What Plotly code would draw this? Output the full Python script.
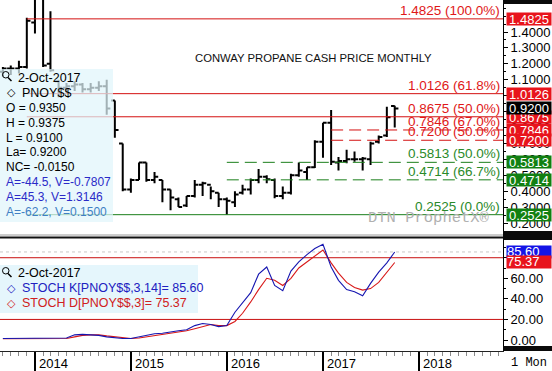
import plotly.graph_objects as go
import pandas as pd

# ---------------- data ----------------
months = pd.date_range("2013-09-01", periods=50, freq="MS")

opens = [1.15, 1.17, 1.17, 1.18,
         1.46, 1.70, 1.20, 1.09, 1.05, 1.06, 1.07, 1.04, 1.05, 1.06, 0.97, 0.70,
         0.41, 0.47, 0.58, 0.47, 0.47, 0.41, 0.35, 0.31, 0.37, 0.44, 0.44, 0.39,
         0.35, 0.33, 0.39, 0.41, 0.47, 0.49, 0.47, 0.37, 0.39, 0.50, 0.52, 0.55,
         0.71, 0.83, 0.58, 0.59, 0.60, 0.60, 0.60, 0.71, 0.75, 0.935]
highs = [1.18, 1.19, 1.22, 1.49,
         1.80, 1.80, 1.53, 1.10, 1.08, 1.09, 1.08, 1.08, 1.09, 1.10, 0.97, 0.70,
         0.48, 0.58, 0.58, 0.52, 0.47, 0.41, 0.36, 0.37, 0.47, 0.46, 0.43, 0.39,
         0.36, 0.40, 0.44, 0.48, 0.54, 0.50, 0.48, 0.43, 0.51, 0.58, 0.55, 0.72,
         0.83, 0.9101, 0.615, 0.66, 0.65, 0.615, 0.71, 0.75, 0.93, 0.9375]
lows = [1.12, 1.13, 1.14, 1.17,
        1.39, 1.18, 1.15, 0.99, 1.02, 1.03, 1.02, 1.02, 1.03, 0.88, 0.735, 0.40,
        0.39, 0.47, 0.46, 0.45, 0.33, 0.28, 0.30, 0.30, 0.36, 0.37, 0.35, 0.30,
        0.2525, 0.30, 0.38, 0.38, 0.45, 0.45, 0.355, 0.35, 0.38, 0.49, 0.47, 0.545,
        0.61, 0.565, 0.53, 0.575, 0.585, 0.53, 0.565, 0.70, 0.74, 0.80]
closes = [1.17, 1.17, 1.18, 1.47,
          1.70, 1.19, 1.16, 1.05, 1.06, 1.07, 1.04, 1.05, 1.06, 0.92, 0.785, 0.41,
          0.47, 0.58, 0.47, 0.49, 0.41, 0.36, 0.30, 0.37, 0.44, 0.45, 0.40, 0.35,
          0.34, 0.38, 0.41, 0.47, 0.49, 0.475, 0.37, 0.39, 0.50, 0.53, 0.55, 0.71,
          0.83, 0.585, 0.59, 0.60, 0.60, 0.605, 0.70, 0.74, 0.865, 0.92]

stoch_k = [1.5, 1.5, 1.5, 1.5,
           1.5, 1.5, 1.5, 1.5, 2, 5, 5.5, 5, 4.5, 3, 2, 1.5,
           1.5, 3, 4.5, 6, 6.5, 8, 9, 10, 14, 16, 15, 13,
           14, 27, 36, 46, 64, 71, 53, 48, 67, 76, 83, 89,
           93, 71, 58, 49, 47, 43, 55, 66, 75, 85.6]
stoch_d = [1.2, 1.2, 1.2, 1.2,
           1.2, 1.2, 1.2, 1.2, 1.5, 3, 4.5, 5, 5, 4, 3, 2,
           1.5, 2, 3, 4.5, 5.5, 7, 8, 9, 11, 13, 15, 14,
           14, 18, 26, 37, 49, 60, 58, 53, 60, 70, 76, 82,
           87.5, 75, 65, 56, 51, 48.5, 50, 56, 66, 75.37]

# Fibonacci retracement levels: (value, pct label, start month, colour, dash)
fib_levels = [
    (1.4825, "(100.0%)", "2013-12-01", "#d41010", "solid"),
    (1.0126, "(61.8%)", "2013-12-01", "#d41010", "solid"),
    (0.8675, "(50.0%)", "2013-12-01", "#d41010", "solid"),
    (0.7846, "(67.0%)", "2017-02-01", "#d41010", "12px,6px"),
    (0.7200, "(50.0%)", "2017-02-01", "#d41010", "12px,6px"),
    (0.5813, "(50.0%)", "2016-01-01", "#1b7f1b", "12px,6px"),
    (0.4714, "(66.7%)", "2016-01-01", "#1b7f1b", "12px,6px"),
    (0.2525, "(0.0%)", "2013-12-01", "#1b7f1b", "solid"),
]
fib_label_colors = {"#d41010": "#e01818", "#1b7f1b": "#2a8a2a"}

price_ticks = [0.2, 0.3, 0.4, 0.5, 0.6, 0.7, 0.8, 0.9, 1.0, 1.1, 1.2, 1.3, 1.4]
stoch_ticks = [0, 20, 40, 60, 80]
stoch_bands = [80, 20]
years = [2014, 2015, 2016, 2017, 2018]

last_price = 0.9200
price_boxes = [(1.4825, "#e8141c"), (1.0126, "#e8141c"), (0.8675, "#e8141c"),
               (last_price, "#000000"), (0.7846, "#e8141c"), (0.7200, "#e8141c"),
               (0.5813, "#128012"), (0.4714, "#128012"), (0.2525, "#128012")]
stoch_boxes = [(stoch_k[-1], "#1414e6"), (stoch_d[-1], "#e8141c")]

legend_date = "2-Oct-2017"
symbol = "PNOY$$"
ohlc_lines = ["O = 0.9350", "H = 0.9375", "L = 0.9100", "La= 0.9200", "NC= -0.0150"]
av_lines = [("A=-44.5, V=-0.7807", "#2a2ac8"), ("A=45.3, V=1.3146", "#2a2ac8"),
            ("A=-62.2, V=0.1500", "#3f7fc4")]
stoch_k_label = "STOCH K[PNOY$$,3,14]= 85.60"
stoch_d_label = "STOCH D[PNOY$$,3]= 75.37"
title_text = "CONWAY PROPANE CASH PRICE MONTHLY"

# ---------------- layout helpers (pixel -> paper) ----------------
W, H = 552, 371
ML, MR, MT, MB = 0, 49, 0, 20
PW, PH = W - ML - MR, H - MT - MB


def px(x):
    return (x - ML) / PW


def py(y):
    return 1 - (y - MT) / PH


FONT = "Liberation Sans, Arial, sans-serif"
MONO = "Liberation Mono, Courier New, monospace"
x_range = ["2013-08-21", "2018-11-17"]

fig = go.Figure()

# Fib lines
for val, pct, start, col, dash in fib_levels:
    fig.add_trace(go.Scatter(x=[start, x_range[1]], y=[val, val], mode="lines",
                             line=dict(color=col, width=1, dash=dash),
                             hoverinfo="skip", showlegend=False,
                             xaxis="x", yaxis="y"))

# price bars
fig.add_trace(go.Ohlc(x=months, open=opens, high=highs, low=lows, close=closes,
                      increasing=dict(line=dict(color="black", width=2)),
                      decreasing=dict(line=dict(color="black", width=2)),
                      tickwidth=0.5, hoverinfo="skip", showlegend=False,
                      xaxis="x", yaxis="y"))

# stochastic
fig.add_trace(go.Scatter(x=months, y=stoch_d, mode="lines",
                         line=dict(color="#d81818", width=1.1),
                         hoverinfo="skip", showlegend=False, xaxis="x2", yaxis="y2"))
fig.add_trace(go.Scatter(x=months, y=stoch_k, mode="lines",
                         line=dict(color="#1616b0", width=1.1),
                         hoverinfo="skip", showlegend=False, xaxis="x2", yaxis="y2"))

shapes = []
annotations = []


def note(x, y, text, color="black", size=12.5, family=FONT, xanchor="left", **kw):
    d = dict(xref="paper", yref="paper", x=px(x), y=py(y), xanchor=xanchor,
             yanchor="middle", showarrow=False, text=text,
             font=dict(color=color, size=size, family=family))
    d.update(kw)
    annotations.append(d)


# stochastic band lines + dotted current-value line
for b in stoch_bands:
    shapes.append(dict(type="line", xref="paper", x0=0, x1=1, yref="y2", y0=b, y1=b,
                       line=dict(color="#c81010", width=1), layer="below"))
shapes.append(dict(type="line", xref="paper", x0=0, x1=1, yref="y2",
                   y0=stoch_k[-1], y1=stoch_k[-1],
                   line=dict(color="#c8c8c8", width=1, dash="dot"), layer="below"))

# legend boxes (semi transparent)
LEG_FILL = "rgb(225,245,251)"
shapes.append(dict(type="rect", xref="paper", yref="paper", x0=px(0), x1=px(113),
                   y0=py(222), y1=py(69), fillcolor=LEG_FILL, opacity=0.72,
                   line=dict(width=0), layer="above"))
shapes.append(dict(type="rect", xref="paper", yref="paper", x0=px(0), x1=px(198),
                   y0=py(313), y1=py(265), fillcolor=LEG_FILL, opacity=0.85,
                   line=dict(width=0), layer="above"))

# magnifier icons
for cy in (75, 271):
    shapes.append(dict(type="circle", xref="paper", yref="paper",
                       x0=px(2.5), x1=px(9), y0=py(cy + 3), y1=py(cy - 3.5),
                       line=dict(color="black", width=1), layer="above"))
    shapes.append(dict(type="line", xref="paper", yref="paper",
                       x0=px(8), x1=px(11.5), y0=py(cy + 2.5), y1=py(cy + 6),
                       line=dict(color="black", width=1.5), layer="above"))

# separator & frame pieces
shapes.append(dict(type="line", xref="paper", yref="paper", x0=0, x1=1,
                   y0=py(235), y1=py(235), line=dict(color="#9a9a9a", width=1), layer="above"))
shapes.append(dict(type="line", xref="paper", yref="paper", x0=0, x1=px(552),
                   y0=py(237.5), y1=py(237.5), line=dict(color="#111111", width=2), layer="above"))
for y0, y1 in ((0, 4), (231, 240), (346, 351)):
    shapes.append(dict(type="rect", xref="paper", yref="paper", x0=1, x1=px(552),
                       y0=py(y1), y1=py(y0), fillcolor="#0a0a0a",
                       line=dict(width=0), layer="above"))

# right axis value boxes (annotations with fixed box size, later ones on top)
for val, col in price_boxes:
    annotations.append(dict(xref="paper", x=px(506), xanchor="left", yref="y", y=val,
                            yanchor="middle", showarrow=False, text=f"{val:.4f}",
                            bgcolor=col, width=44, height=12, borderpad=0,
                            align="center", valign="middle",
                            font=dict(color="white", size=13, family=FONT)))
for val, col in stoch_boxes:
    annotations.append(dict(xref="paper", x=px(506), xanchor="left", yref="y2", y=val,
                            yanchor="middle", showarrow=False, text=f"{val:.2f}",
                            bgcolor=col, width=44, height=11.5, borderpad=0,
                            align="left", valign="middle",
                            font=dict(color="white", size=13, family=FONT)))

# fib labels
for val, pct, start, col, dash in fib_levels:
    annotations.append(dict(xref="paper", x=px(502), xanchor="right", yref="y", y=val,
                            yanchor="bottom", yshift=-1, showarrow=False,
                            text=f"{val:.4f} {pct}",
                            font=dict(color=fib_label_colors[col], size=13.5, family=FONT)))

# title & watermark
note(313, 58, title_text, color="#111111", size=11.3, xanchor="center")
note(492, 218, "DTN ProphetX®", color="#b0b0b0", size=15.5, family=MONO, xanchor="right")

# price legend text
note(16, 78, legend_date)
note(5, 93, "◇", size=11, family="DejaVu Sans")
note(20, 93, symbol)
for i, t in enumerate(ohlc_lines):
    note(4, 108 + 14.8 * i, t, size=12)
for i, (t, c) in enumerate(av_lines):
    note(4, 182 + 15 * i, t, color=c, size=12)

# stoch legend text
note(16, 273, legend_date)
for yy, t, c in ((288, stoch_k_label, "#2020c0"), (303, stoch_d_label, "#d02020")):
    note(5, yy, "◇", color=c, size=11, family="DejaVu Sans")
    note(20, yy, t, color=c)

# year labels
for yr in years:
    annotations.append(dict(xref="x2", x=f"{yr}-01-01", xanchor="left", xshift=2,
                            yref="paper", y=py(363), yanchor="middle",
                            showarrow=False, text=str(yr),
                            font=dict(color="black", size=13, family=FONT)))
note(509, 363, "1 Mon", size=12, family=MONO)

axis_font = dict(color="black", size=13, family=FONT)

fig.update_layout(
    width=W, height=H,
    margin=dict(l=ML, r=MR, t=MT, b=MB, pad=0),
    paper_bgcolor="white", plot_bgcolor="white",
    showlegend=False,
    xaxis=dict(domain=[0, 1], anchor="y", type="date", range=x_range,
               showticklabels=False, ticks="", showgrid=False, zeroline=False,
               showline=False, rangeslider=dict(visible=False), fixedrange=True),
    yaxis=dict(domain=[py(236), 1], anchor="x", side="right",
               range=[0.1186, 1.601], tickvals=price_ticks, tickformat=".4f",
               ticks="outside", ticklen=4, tickcolor="black", tickwidth=1,
               showline=True, linecolor="black", linewidth=1,
               showgrid=False, zeroline=False, tickfont=axis_font,
               minor=dict(ticks="outside", dtick=0.05, ticklen=2, tickcolor="black"),
               fixedrange=True),
    xaxis2=dict(domain=[0, 1], anchor="y2", type="date", matches="x", range=x_range,
                tick0="2014-01-01", dtick="M12", ticks="outside", ticklen=19,
                tickwidth=2, tickcolor="black", showticklabels=False,
                showline=True, linecolor="#222222", linewidth=1,
                showgrid=False, zeroline=False,
                minor=dict(ticks="outside", dtick="M1", ticklen=4, tickcolor="#8a8a8a",
                           tickwidth=1),
                fixedrange=True),
    yaxis2=dict(domain=[0, py(239)], anchor="x2", side="right",
                range=[-10.7, 98.2], tickvals=stoch_ticks, tickformat=".2f",
                ticks="outside", ticklen=4, tickcolor="black", tickwidth=1,
                showline=True, linecolor="black", linewidth=1,
                showgrid=False, zeroline=False, tickfont=axis_font,
                minor=dict(ticks="outside", dtick=10, ticklen=2, tickcolor="black"),
                fixedrange=True),
    shapes=shapes,
    annotations=annotations,
)

fig.write_html("out.html",
               config={"displayModeBar": False, "staticPlot": True},
               post_script="document.body.style.margin='0';document.body.style.padding='0';")
